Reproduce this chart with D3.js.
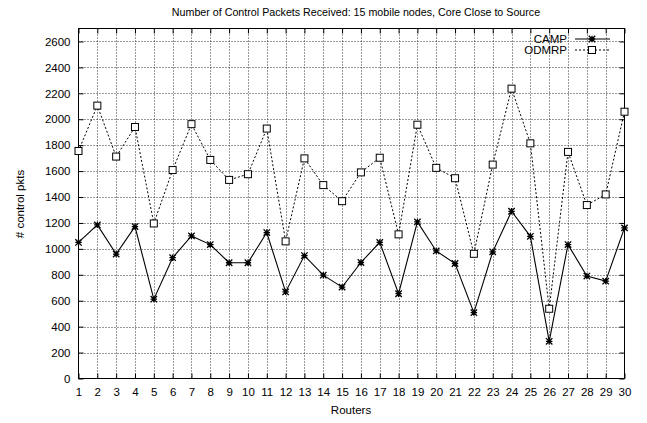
<!DOCTYPE html>
<html><head><meta charset="utf-8">
<script src="https://cdn.jsdelivr.net/npm/d3@7"></script>
<style>body{margin:0;background:#fff}svg{display:block}text{font-family:"Liberation Sans",Arial,sans-serif}</style>
</head><body>
<script>
const routers = d3.range(1, 31);
const camp = [1050,1185,960,1172,612,932,1100,1033,893,893,1126,668,948,797,705,895,1050,654,1208,984,887,508,977,1290,1097,287,1033,790,751,1162];
const odmrp = [1755,2105,1712,1940,1196,1608,1962,1686,1532,1576,1928,1058,1698,1492,1368,1590,1703,1112,1958,1625,1545,962,1650,2236,1814,538,1748,1338,1420,2058];
const yTicks = d3.range(0, 2601, 200);
const title = "Number of Control Packets Received: 15 mobile nodes, Core Close to Source";
const W = 647, H = 423;
const L = 78.5, R = 624.5, T = 28.5, B = 378.5;
const svg = d3.select("body").append("svg").attr("width", W).attr("height", H);
const x = d3.scaleLinear().domain([1, 30]).range([L, R]);
const y = d3.scaleLinear().domain([0, 2700]).range([B, T]);

// grid
const g = svg.append("g").attr("stroke", "#000").attr("stroke-width", 0.8).attr("stroke-dasharray", "1,2");
g.selectAll("line.v").data(routers.slice(1, -1)).join("line")
  .attr("x1", d => Math.round(x(d)) + 0.5).attr("x2", d => Math.round(x(d)) + 0.5).attr("y1", T).attr("y2", B);
g.selectAll("line.h").data(yTicks.slice(1)).join("line")
  .attr("y1", d => Math.round(y(d)) + 0.5).attr("y2", d => Math.round(y(d)) + 0.5).attr("x1", L).attr("x2", R);

// axes with mirror ticks
const ax = svg.append("g").attr("transform", `translate(0,${B})`)
  .call(d3.axisBottom(x).tickValues(routers).tickFormat(d3.format("d")).tickSize(-5).tickPadding(9));
const axT = svg.append("g").attr("transform", `translate(0,${T})`)
  .call(d3.axisTop(x).tickValues(routers).tickFormat("").tickSize(-5));
const ay = svg.append("g").attr("transform", `translate(${L},0)`)
  .call(d3.axisLeft(y).tickValues(yTicks).tickFormat(d3.format("d")).tickSize(-5).tickPadding(8));
const ayR = svg.append("g").attr("transform", `translate(${R},0)`)
  .call(d3.axisRight(y).tickValues(yTicks).tickFormat("").tickSize(-5));
[ax, axT, ay, ayR].forEach(a => {
  a.select(".domain").remove();
  a.selectAll("line").attr("stroke", "#000");
  a.selectAll("text").attr("font-size", 11.5).attr("fill", "#000").attr("font-family", '"Liberation Sans",Arial,sans-serif');
});
svg.append("rect").attr("x", L).attr("y", T).attr("width", R - L).attr("height", B - T)
  .attr("fill", "none").attr("stroke", "#000").attr("stroke-width", 1);

// series
const line = d3.line().x((d, i) => x(routers[i])).y(d => y(d));
svg.append("path").datum(odmrp).attr("d", line).attr("fill", "none").attr("stroke", "#000")
  .attr("stroke-width", 1).attr("stroke-dasharray", "2,2");
svg.append("path").datum(camp).attr("d", line).attr("fill", "none").attr("stroke", "#000").attr("stroke-width", 1.1);

function star(sel, cx, cy) {
  const s = 3.2;
  sel.append("path").attr("d", `M${cx-s},${cy}H${cx+s}M${cx},${cy-s}V${cy+s}M${cx-s},${cy-s}L${cx+s},${cy+s}M${cx-s},${cy+s}L${cx+s},${cy-s}`)
    .attr("stroke", "#000").attr("stroke-width", 1.3).attr("fill", "none");
}
function square(sel, cx, cy) {
  sel.append("rect").attr("x", cx - 3.5).attr("y", cy - 3.5).attr("width", 7).attr("height", 7)
    .attr("fill", "#fff").attr("stroke", "#000").attr("stroke-width", 1);
}
const mk = svg.append("g");
odmrp.forEach((v, i) => square(mk, x(routers[i]), y(v)));
camp.forEach((v, i) => star(mk, x(routers[i]), y(v)));

// legend
const lg = svg.append("g");
lg.append("text").attr("x", 567).attr("y", 43).attr("text-anchor", "end").attr("font-size", 11.5).text("CAMP");
lg.append("text").attr("x", 567).attr("y", 54).attr("text-anchor", "end").attr("font-size", 11.5).text("ODMRP");
lg.append("line").attr("x1", 575).attr("x2", 610).attr("y1", 39).attr("y2", 39).attr("stroke", "#000").attr("stroke-width", 1.1);
star(lg, 592, 39);
lg.append("line").attr("x1", 575).attr("x2", 610).attr("y1", 50).attr("y2", 50).attr("stroke", "#000").attr("stroke-dasharray", "2,2");
square(lg, 592, 50);

// labels
svg.append("text").attr("x", 356).attr("y", 16).attr("text-anchor", "middle").attr("font-size", 10.7).text(title);
svg.append("text").attr("x", 351).attr("y", 414).attr("text-anchor", "middle").attr("font-size", 11.5).text("Routers");
svg.append("text").attr("transform", "translate(24,204) rotate(-90)").attr("text-anchor", "middle").attr("font-size", 11.5).text("# control pkts");
</script>
</body></html>
